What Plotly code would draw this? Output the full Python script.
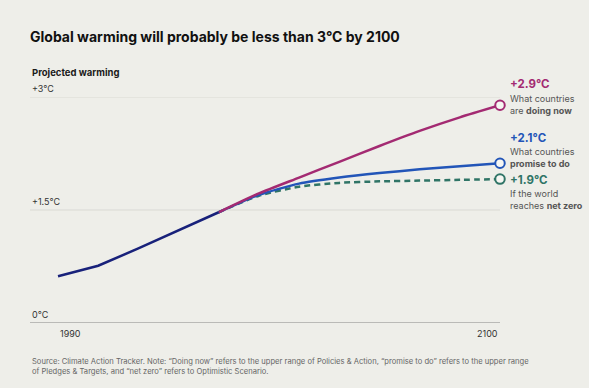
import plotly.graph_objects as go

# ---- data ----
years_hist = [1990, 2000, 2010, 2020, 2030]
warming_hist = [0.62, 0.76, 0.99, 1.23, 1.47]
years_proj = [2030, 2040, 2050, 2060, 2070, 2080, 2090, 2100]
doing_now = [1.47, 1.72, 1.93, 2.14, 2.35, 2.55, 2.73, 2.89]
promise_to_do = [1.47, 1.70, 1.85, 1.93, 1.99, 2.04, 2.08, 2.12]
net_zero = [1.47, 1.69, 1.81, 1.86, 1.88, 1.89, 1.90, 1.91]
y_ticks = [0, 1.5, 3]
y_tick_labels = ["0°C", "+1.5°C", "+3°C"]
x_ticks = [1990, 2100]
x_tick_labels = ["1990", "2100"]

BG = "#eeeee9"
NAVY = "#18217a"
MAGENTA = "#a32a72"
BLUE = "#2255b8"
GREEN = "#2f7466"
FONT = "Inter"

fig = go.Figure()

fig.add_trace(go.Scatter(x=years_proj, y=net_zero, mode="lines",
                         line=dict(color=GREEN, width=2.5, dash="6px,4px",
                                   shape="spline", smoothing=0.6),
                         hoverinfo="skip"))
fig.add_trace(go.Scatter(x=years_proj, y=promise_to_do, mode="lines",
                         line=dict(color=BLUE, width=2.5, shape="spline", smoothing=0.6),
                         hoverinfo="skip"))
fig.add_trace(go.Scatter(x=years_proj, y=doing_now, mode="lines",
                         line=dict(color=MAGENTA, width=2.5, shape="spline", smoothing=0.6),
                         hoverinfo="skip"))
fig.add_trace(go.Scatter(x=years_hist, y=warming_hist, mode="lines",
                         line=dict(color=NAVY, width=2.5), hoverinfo="skip"))

# end markers
for series, col in [(doing_now, MAGENTA), (promise_to_do, BLUE), (net_zero, GREEN)]:
    fig.add_trace(go.Scatter(x=[years_proj[-1]], y=[series[-1]], mode="markers",
                             marker=dict(size=9.5, color="#f6f6f2",
                                         line=dict(color=col, width=2)),
                             cliponaxis=False, hoverinfo="skip"))

shapes = []
for v in y_ticks:
    shapes.append(dict(type="line", xref="paper", x0=0, x1=1, yref="y", y0=v, y1=v,
                       line=dict(color="#a9a9a6" if v == 0 else "#d9d9d4",
                                 width=1.5 if v == 0 else 1),
                       layer="below"))

annotations = []
for v, t in zip(y_ticks, y_tick_labels):
    annotations.append(dict(x=0, xref="paper", y=v, yref="y", text=t,
                            xanchor="left", yanchor="bottom", yshift=1,
                            showarrow=False, font=dict(family=FONT, size=9, color="#333")))
for xv, t, anc in zip(x_ticks, x_tick_labels, ["left", "right"]):
    annotations.append(dict(x=xv, xref="x", y=0, yref="y", text=t,
                            xanchor=anc, yanchor="top", yshift=-3,
                            showarrow=False, font=dict(family=FONT, size=9, color="#333")))

annotations.append(dict(x=0, xref="paper", y=(323 - 73) / 226, yref="paper",
                        text="<b>Projected warming</b>", xanchor="left", yanchor="middle",
                        showarrow=False, font=dict(family=FONT, size=9.5, color="#1a1a1a")))

labels = [
    (doing_now[-1], MAGENTA, "+2.9°C", "What countries<br>are <b>doing now</b>", 21, 1),
    (promise_to_do[-1], BLUE, "+2.1°C", "What countries<br><b>promise to do</b>", 25, 6),
    (net_zero[-1], GREEN, "+1.9°C", "If the world<br>reaches <b>net zero</b>", -1, -20),
]
for yv, col, head, desc, hs, ds in labels:
    annotations.append(dict(x=2100, xref="x", y=yv, yref="y", text="<b>" + head + "</b>",
                            xanchor="left", yanchor="middle", xshift=8, yshift=hs,
                            showarrow=False, font=dict(family=FONT, size=11.5, color=col)))
    annotations.append(dict(x=2100, xref="x", y=yv, yref="y", text=desc, align="left",
                            xanchor="left", yanchor="middle", xshift=8, yshift=ds,
                            showarrow=False, font=dict(family=FONT, size=9, color="#555")))

annotations.append(dict(
    x=0, xref="paper", y=(323 - 366) / 226, yref="paper", align="left",
    text="Source: Climate Action Tracker. Note: “Doing now” refers to the upper range of Policies &amp; Action, “promise to do” refers to the upper range<br>of Pledges &amp; Targets, and “net zero” refers to Optimistic Scenario.",
    xanchor="left", yanchor="middle", showarrow=False,
    font=dict(family=FONT, size=7.6, color="#666")))

fig.update_layout(
    width=589, height=388,
    paper_bgcolor=BG, plot_bgcolor=BG,
    margin=dict(l=30, r=89, t=97, b=65),
    showlegend=False,
    title=dict(text="<b>Global warming will probably be less than 3°C by 2100</b>",
               xref="container", x=30 / 589, xanchor="left",
               yref="container", y=1 - 37 / 388, yanchor="middle",
               font=dict(family=FONT, size=14, color="#111")),
    xaxis=dict(range=[1983.03, 2100], showgrid=False, zeroline=False,
               showticklabels=False, showline=False, fixedrange=True),
    yaxis=dict(range=[0, 3], showgrid=False, zeroline=False,
               showticklabels=False, showline=False, fixedrange=True),
    shapes=shapes, annotations=annotations,
)

fig.write_html("out.html", config=dict(displayModeBar=False),
               post_script="document.body.style.margin='0px';document.body.style.background='" + BG + "';")
